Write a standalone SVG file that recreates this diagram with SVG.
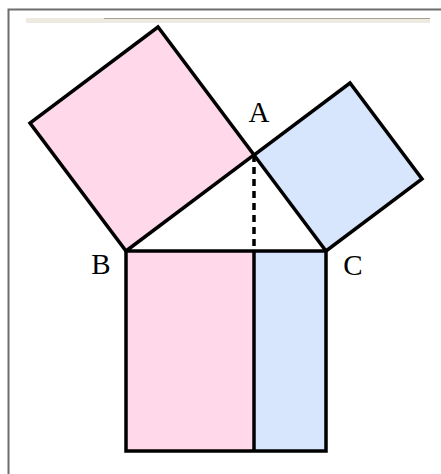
<svg xmlns="http://www.w3.org/2000/svg" width="441" height="474" viewBox="0 0 441 474">
<style>
.sq{stroke:#000;stroke-width:3.5;stroke-linejoin:miter}
.pink{fill:#FFD9EA}
.blue{fill:#D7E6FC}
.lbl{font-family:"Liberation Serif",serif;font-size:29px;fill:#000}
</style>
<rect x="0" y="0" width="441" height="474" fill="#fff"/>
<g id="frame">
<path d="M8.5 474 V9.5 H441" fill="none" stroke="#6d6d6d" stroke-width="2"/>
<rect x="26" y="18" width="404" height="5" fill="#EEE9E1"/>
<line x1="104" y1="18.5" x2="430" y2="18.5" stroke="#a8a08f" stroke-width="1"/>
</g>
<g id="pinkSquare"><polygon class="sq pink" points="126,251 254,155 158,27 30,123"/></g>
<g id="blueSquare"><polygon class="sq blue" points="254,155 326,251 422,179 350,83"/></g>
<g id="bottomSquare">
<rect class="pink" x="126" y="251" width="128" height="200"/>
<rect class="blue" x="254" y="251" width="72" height="200"/>
<rect x="126" y="251" width="200" height="200" fill="none" stroke="#000" stroke-width="3.5"/>
</g>
<g id="connectors">
<line x1="254" y1="251" x2="254" y2="451" stroke="#000" stroke-width="3.5"/>
<line x1="254" y1="155" x2="254" y2="251" stroke="#000" stroke-width="3.5" stroke-dasharray="7,5"/>
</g>
<g id="labelA"><text class="lbl" x="259" y="122" text-anchor="middle">A</text></g>
<g id="labelB"><text class="lbl" x="101" y="274" text-anchor="middle">B</text></g>
<g id="labelC"><text class="lbl" x="353" y="275" text-anchor="middle">C</text></g>
</svg>
